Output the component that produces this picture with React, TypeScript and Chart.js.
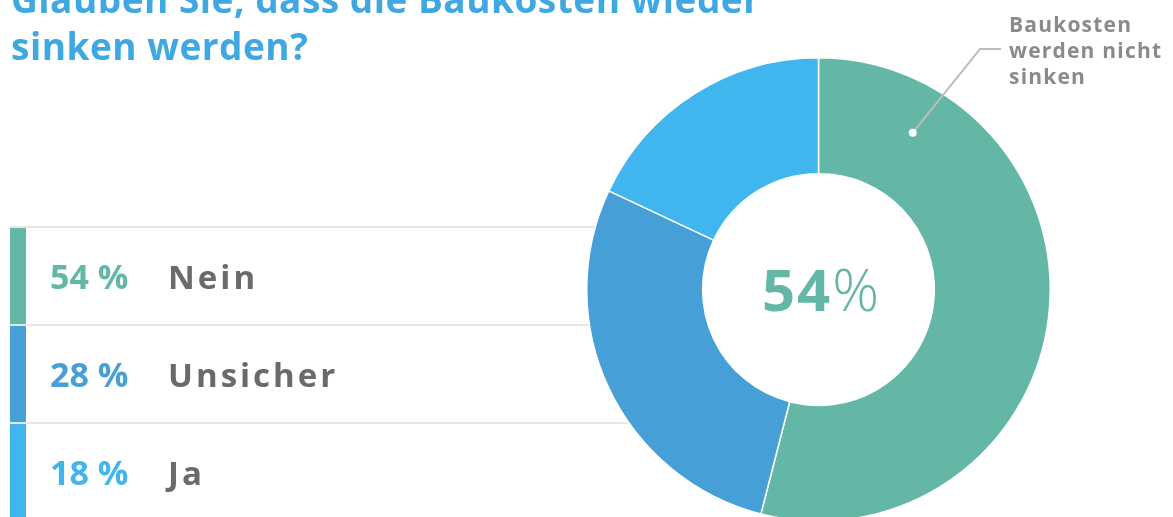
import React, { useEffect, useRef } from "react";
import { Chart, registerables } from "chart.js";

Chart.register(...registerables);

const categories = ["Nein", "Unsicher", "Ja"];
const values = [54, 28, 18];
const colors = ["#64b7a7", "#479fd8", "#41b6ee"];
const titleLines = ["Glauben Sie, dass die Baukosten wieder", "sinken werden?"];
const calloutLines = ["Baukosten", "werden nicht", "sinken"];

const TITLE_COLOR = "#3fa7e2";
const LABEL_COLOR = "#6a6a6a";
const CALLOUT_COLOR = "#8a8a8a";
const FONT = "'Open Sans', 'DejaVu Sans', sans-serif";

const W = 1173;
const H = 540;

const overlay = {
  id: "overlay",
  beforeDatasetsDraw(chart: any) {
    const ctx: CanvasRenderingContext2D = chart.ctx;
    ctx.save();
    ctx.textBaseline = "alphabetic";
    ctx.textAlign = "left";
    // title
    ctx.fillStyle = TITLE_COLOR;
    ctx.font = `bold 37px ${FONT}`;
    (ctx as any).letterSpacing = "0.5px";
    titleLines.forEach((t, i) => {
      ctx.fillText(t, 11, 13 + i * 46.5);
    });
    (ctx as any).letterSpacing = "0px";
    // legend rows
    categories.forEach((c, i) => {
      const top = 227 + i * 98;
      ctx.fillStyle = "#e6e6e6";
      ctx.fillRect(10, top - 1, 620, 2);
      ctx.fillStyle = colors[i];
      ctx.fillRect(10, top + 1, 16, i === categories.length - 1 ? 200 : 96);
      ctx.font = `bold 34px ${FONT}`;
      (ctx as any).letterSpacing = "0px";
      ctx.fillText(`${values[i]} %`, 50, top + 62);
      ctx.fillStyle = LABEL_COLOR;
      (ctx as any).letterSpacing = "3px";
      ctx.font = `bold 33px ${FONT}`;
      ctx.fillText(c, 168, top + 62);
      (ctx as any).letterSpacing = "0px";
    });
    ctx.restore();
  },
  afterDatasetsDraw(chart: any) {
    const ctx: CanvasRenderingContext2D = chart.ctx;
    const a = chart.chartArea;
    const cx = (a.left + a.right) / 2;
    const cy = (a.top + a.bottom) / 2;
    ctx.save();
    ctx.textBaseline = "alphabetic";
    ctx.textAlign = "left";
    // center text
    const num = String(values[0]);
    ctx.font = `bold 58px ${FONT}`;
    (ctx as any).letterSpacing = "2px";
    const w1 = ctx.measureText(num).width;
    ctx.font = `300 58px ${FONT}`;
    (ctx as any).letterSpacing = "0px";
    const w2 = ctx.measureText("%").width;
    const x0 = cx + 2 - (w1 + w2) / 2;
    ctx.fillStyle = colors[0];
    ctx.font = `bold 58px ${FONT}`;
    (ctx as any).letterSpacing = "2px";
    ctx.fillText(num, x0, cy + 21);
    (ctx as any).letterSpacing = "0px";
    ctx.font = `300 58px ${FONT}`;
    ctx.fillText("%", x0 + w1, cy + 21);

    // callout
    const ang = (31 * Math.PI) / 180;
    const r = 183;
    const dx = cx + r * Math.sin(ang);
    const dy = cy - r * Math.cos(ang);
    ctx.strokeStyle = "#bdbdbd";
    ctx.lineWidth = 2;
    ctx.beginPath();
    ctx.moveTo(dx, dy);
    ctx.lineTo(980, 49);
    ctx.lineTo(1001, 49);
    ctx.stroke();
    ctx.fillStyle = "#ffffff";
    ctx.beginPath();
    ctx.arc(dx, dy, 4, 0, Math.PI * 2);
    ctx.fill();

    ctx.fillStyle = CALLOUT_COLOR;
    ctx.font = `bold 21px ${FONT}`;
    (ctx as any).letterSpacing = "1.2px";
    calloutLines.forEach((t, i) => {
      ctx.fillText(t, 1009, 32 + i * 25.8);
    });
    (ctx as any).letterSpacing = "0px";
    ctx.restore();
  },
};

export default function App() {
  const ref = useRef<HTMLCanvasElement | null>(null);
  useEffect(() => {
    if (!ref.current) return;
    const chart = new Chart(ref.current, {
      type: "doughnut",
      data: {
        labels: categories,
        datasets: [
          {
            data: values,
            backgroundColor: colors,
            borderColor: "#ffffff",
            borderWidth: 1.5,
            hoverOffset: 0,
          },
        ],
      },
      options: {
        responsive: false,
        animation: false,
        cutout: "50%",
        rotation: 0,
        layout: { padding: { left: 586, right: 122, top: 57, bottom: 18 } },
        plugins: {
          legend: { display: false },
          tooltip: { enabled: false },
        },
      },
      plugins: [overlay],
    });
    return () => chart.destroy();
  }, []);
  return (
    <div
      style={{
        position: "fixed",
        left: 0,
        top: 0,
        width: W,
        height: 517,
        overflow: "hidden",
        background: "#ffffff",
      }}
    >
      <canvas ref={ref} width={W} height={H} style={{ width: W, height: H, display: "block" }} />
    </div>
  );
}
